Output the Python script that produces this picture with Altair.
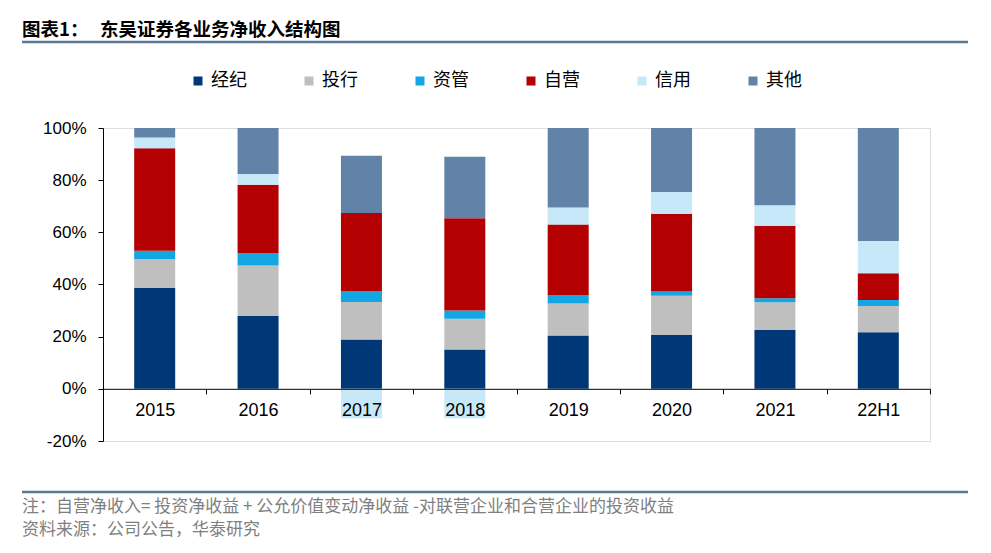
import altair as alt
import pandas as pd

years = ["2015", "2016", "2017", "2018", "2019", "2020", "2021", "22H1"]
categories = ["经纪", "投行", "资管", "自营", "信用", "其他"]
colors = ["#003776", "#BFBFBF", "#12A7E2", "#B40000", "#C6E8F8", "#6283A8"]

jingji = [38.8, 27.9, 18.9, 15.1, 20.4, 20.6, 22.6, 21.7]
touhang = [11.0, 19.4, 14.4, 11.8, 12.3, 15.1, 10.6, 10.1]
ziguan = [3.1, 4.7, 4.2, 3.1, 3.2, 1.6, 1.5, 2.3]
ziying = [39.3, 26.2, 29.9, 35.4, 27.1, 29.8, 27.8, 10.2]
xinyong = [4.2, 4.2, -11.3, -11.3, 6.5, 8.4, 7.9, 12.4]
qita = [3.6, 17.6, 22.0, 23.6, 30.5, 24.5, 29.6, 43.3]

y_ticks = [-0.2, 0.0, 0.2, 0.4, 0.6, 0.8, 1.0]

title_left = "图表1："
title_right = "东吴证券各业务净收入结构图"
note_1 = "注：自营净收入= 投资净收益 + 公允价值变动净收益 -对联营企业和合营企业的投资收益"
note_2 = "资料来源：公司公告，华泰研究"

series = [jingji, touhang, ziguan, ziying, xinyong, qita]
rows = []
for ci, (cat, vals) in enumerate(zip(categories, series)):
    for y, v in zip(years, vals):
        rows.append({"year": y, "cat": cat, "idx": ci, "value": v / 100.0})
df = pd.DataFrame(rows)

W, H = 827, 313
CJK = "Noto Sans CJK SC"
LAT = "Liberation Sans"

bars = alt.Chart(df).mark_bar(size=41).encode(
    x=alt.X("year:N", sort=years,
            scale=alt.Scale(paddingInner=0, paddingOuter=0),
            axis=alt.Axis(title=None, labelAngle=0, tickBand="extent", offset=-52.2,
                          labelFontSize=18, labelFont=LAT, labelColor="#000000",
                          domainColor="#000000", tickColor="#000000", tickSize=5,
                          labelPadding=8, zindex=1)),
    y=alt.Y("value:Q", stack="zero",
            scale=alt.Scale(domain=[-0.2, 1.0], nice=False),
            axis=alt.Axis(title=None, format=".0%", values=y_ticks, grid=False,
                          labelExpr="replace(datum.label, '\u2212', '-')",
                          labelFontSize=17, labelFont=LAT, labelColor="#000000",
                          domainColor="#000000", tickColor="#000000", tickSize=5,
                          labelPadding=12)),
    color=alt.Color("cat:N", sort=categories,
                    scale=alt.Scale(domain=categories, range=colors),
                    legend=alt.Legend(title=None, orient="none", legendX=86, legendY=-56,
                                      direction="horizontal", symbolType="square",
                                      symbolSize=81, symbolStrokeWidth=0,
                                      labelFontSize=18, labelFont=CJK, labelColor="#000000",
                                      labelOffset=4, columnPadding=53)),
    order=alt.Order("idx:Q"),
)

one = pd.DataFrame({"a": [0]})

t_left = alt.Chart(pd.DataFrame({"t": [title_left]})).mark_text(
    align="left", baseline="middle", font=CJK, fontSize=18.5, fontWeight="bold", color="#000000"
).encode(text="t:N", x=alt.value(-81), y=alt.value(-98))

t_right = alt.Chart(pd.DataFrame({"t": [title_right]})).mark_text(
    align="left", baseline="middle", font=CJK, fontSize=18.5, fontWeight="bold", color="#000000"
).encode(text="t:N", x=alt.value(-3), y=alt.value(-98))

line_top = alt.Chart(one).mark_rule(color="#5B7896", strokeWidth=2.5).encode(
    x=alt.value(-81), x2=alt.value(865), y=alt.value(-86))

line_bot = alt.Chart(one).mark_rule(color="#5B7896", strokeWidth=2.5).encode(
    x=alt.value(-81), x2=alt.value(865), y=alt.value(364))

n1 = alt.Chart(pd.DataFrame({"t": [note_1]})).mark_text(
    align="left", baseline="middle", font=CJK, fontSize=17, color="#7F7F7F"
).encode(text="t:N", x=alt.value(-81), y=alt.value(379))

n2 = alt.Chart(pd.DataFrame({"t": [note_2]})).mark_text(
    align="left", baseline="middle", font=CJK, fontSize=17, color="#7F7F7F"
).encode(text="t:N", x=alt.value(-81), y=alt.value(402))

chart = alt.layer(bars, t_left, t_right, line_top, line_bot, n1, n2).properties(
    width=W, height=H,
    padding={"left": 95, "top": 120, "right": 53, "bottom": 104},
    autosize=alt.AutoSizeParams(type="none"),
).configure_view(stroke=None).configure(background="#FFFFFF")

chart.save("out.html", embed_options={"renderer": "svg", "actions": False})
